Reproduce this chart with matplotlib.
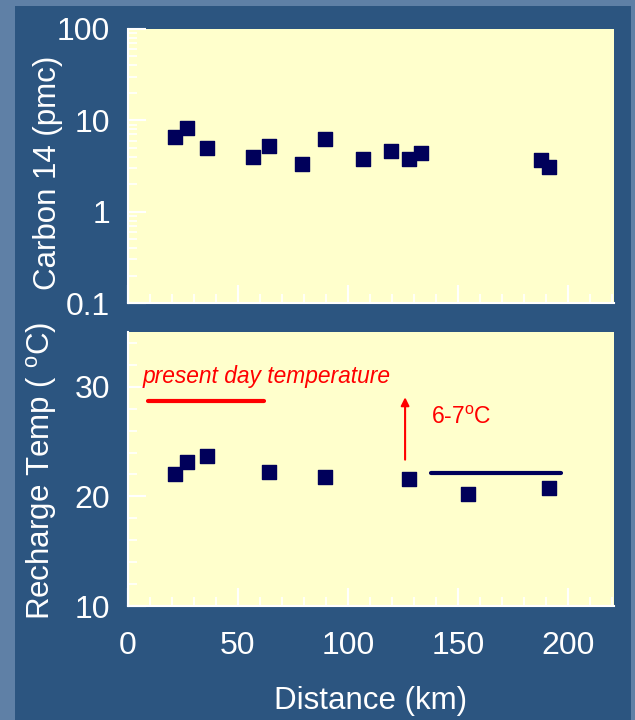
import matplotlib.pyplot as plt
from matplotlib.patches import Rectangle
from matplotlib.ticker import FixedLocator, MultipleLocator, NullFormatter

plt.rcParams['font.family'] = ['Liberation Sans', 'DejaVu Sans']
plt.rcParams['mathtext.fontset'] = 'custom'
plt.rcParams['mathtext.rm'] = 'Liberation Sans'
plt.rcParams['mathtext.it'] = 'Liberation Sans:italic'

# carbon 14 samples
dist_c14 = [21.3, 26.8, 36.0, 56.7, 64.1, 79.3, 89.4, 106.9, 119.7, 128.0, 133.3, 187.7, 191.4]
c14_pmc = [6.5, 8.2, 5.0, 4.0, 5.3, 3.3, 6.3, 3.8, 4.6, 3.8, 4.4, 3.7, 3.1]

# recharge temperature samples
dist_temp = [21.3, 26.8, 36.0, 64.1, 89.4, 127.8, 154.4, 191.4]
recharge_temp = [22.0, 23.1, 23.7, 22.2, 21.8, 21.6, 20.2, 20.8]

# reference lines
present_x = [9, 62]
present_temp = [28.7, 28.7]
paleo_x = [138, 197]
paleo_temp = [22.1, 22.1]
arrow_x = 126
arrow_from = 23.1
arrow_to = 29.3

c14_ticks = [0.1, 1, 10, 100]
c14_ticklabels = ['0.1', '1', '10', '100']
temp_ticks = [10, 20, 30]
dist_ticks = [0, 50, 100, 150, 200]

navy = '#00005a'
panel = '#ffffcc'
slide_dark = '#2c5580'
slide_light = '#5f80a6'

fig = plt.figure(figsize=(6.35, 7.2), dpi=100)
fig.patch.set_facecolor(slide_light)
fig.patches.append(Rectangle((15 / 635, 0), 616 / 635, 1 - 6 / 720,
                             transform=fig.transFigure, facecolor=slide_dark,
                             edgecolor='none', zorder=-5))

ax1 = fig.add_axes([128 / 635, 1 - 303 / 720, 486 / 635, 274 / 720])
ax2 = fig.add_axes([128 / 635, 1 - 606 / 720, 486 / 635, 274 / 720])


def style_axis(ax):
    ax.set_facecolor(panel)
    for side in ['top', 'right']:
        ax.spines[side].set_visible(False)
    for side in ['left', 'bottom']:
        ax.spines[side].set_color('white')
        ax.spines[side].set_linewidth(1.5)
    ax.tick_params(which='both', direction='in', colors='white', labelcolor='white',
                   labelsize=23, top=False, right=False)
    ax.tick_params(which='major', length=13, width=1.5)
    ax.tick_params(which='minor', length=6.5, width=1.2)
    ax.tick_params(axis='y', pad=13)
    ax.tick_params(axis='x', pad=18)
    ax.set_xlim(0, 221)
    ax.xaxis.set_major_locator(FixedLocator(dist_ticks))
    ax.xaxis.set_minor_locator(MultipleLocator(10))


# 上图: carbon 14
style_axis(ax1)
ax1.scatter(dist_c14, c14_pmc, marker='s', s=88, color=navy, zorder=3)
ax1.set_yscale('log')
ax1.set_ylim(0.1, 100)
ax1.set_yticks(c14_ticks)
ax1.set_yticklabels(c14_ticklabels)
ax1.yaxis.set_minor_formatter(NullFormatter())
ax1.set_xticklabels([])

# 下图: recharge temperature
style_axis(ax2)
ax2.scatter(dist_temp, recharge_temp, marker='s', s=88, color=navy, zorder=3)
ax2.set_ylim(10, 35)
ax2.set_yticks(temp_ticks)
ax2.yaxis.set_minor_locator(MultipleLocator(2))
ax2.set_xticklabels([str(t) for t in dist_ticks])

ax2.plot(present_x, present_temp, color='red', linewidth=3, solid_capstyle='round')
ax2.text(6.8, 30.9, 'present day temperature', color='red', style='italic',
         fontsize=16.4, ha='left', va='center')
ax2.plot(paleo_x, paleo_temp, color=navy, linewidth=3, solid_capstyle='round')
ax2.annotate('', xy=(arrow_x, arrow_to), xytext=(arrow_x, arrow_from),
             arrowprops=dict(arrowstyle='-|>', color='red', lw=1.5, mutation_scale=12))
ax2.text(138, 27.2, '6-7$^{\\mathrm{o}}$C', color='red', fontsize=16.5,
         ha='left', va='center')

# 轴标题
fig.text(48 / 635, 1 - 173 / 720, 'Carbon 14 (pmc)', color='white', fontsize=22.5,
         rotation=90, ha='center', va='center')
fig.text(42 / 635, 1 - 471 / 720, 'Recharge Temp ( $^{\\mathrm{o}}$C)', color='white',
         fontsize=22.5, rotation=90, ha='center', va='center')
fig.text(371 / 635, 1 - 701 / 720, 'Distance (km)', color='white', fontsize=22.5,
         ha='center', va='center')

plt.savefig('out.png', dpi=100, facecolor=fig.get_facecolor())
plt.close()
